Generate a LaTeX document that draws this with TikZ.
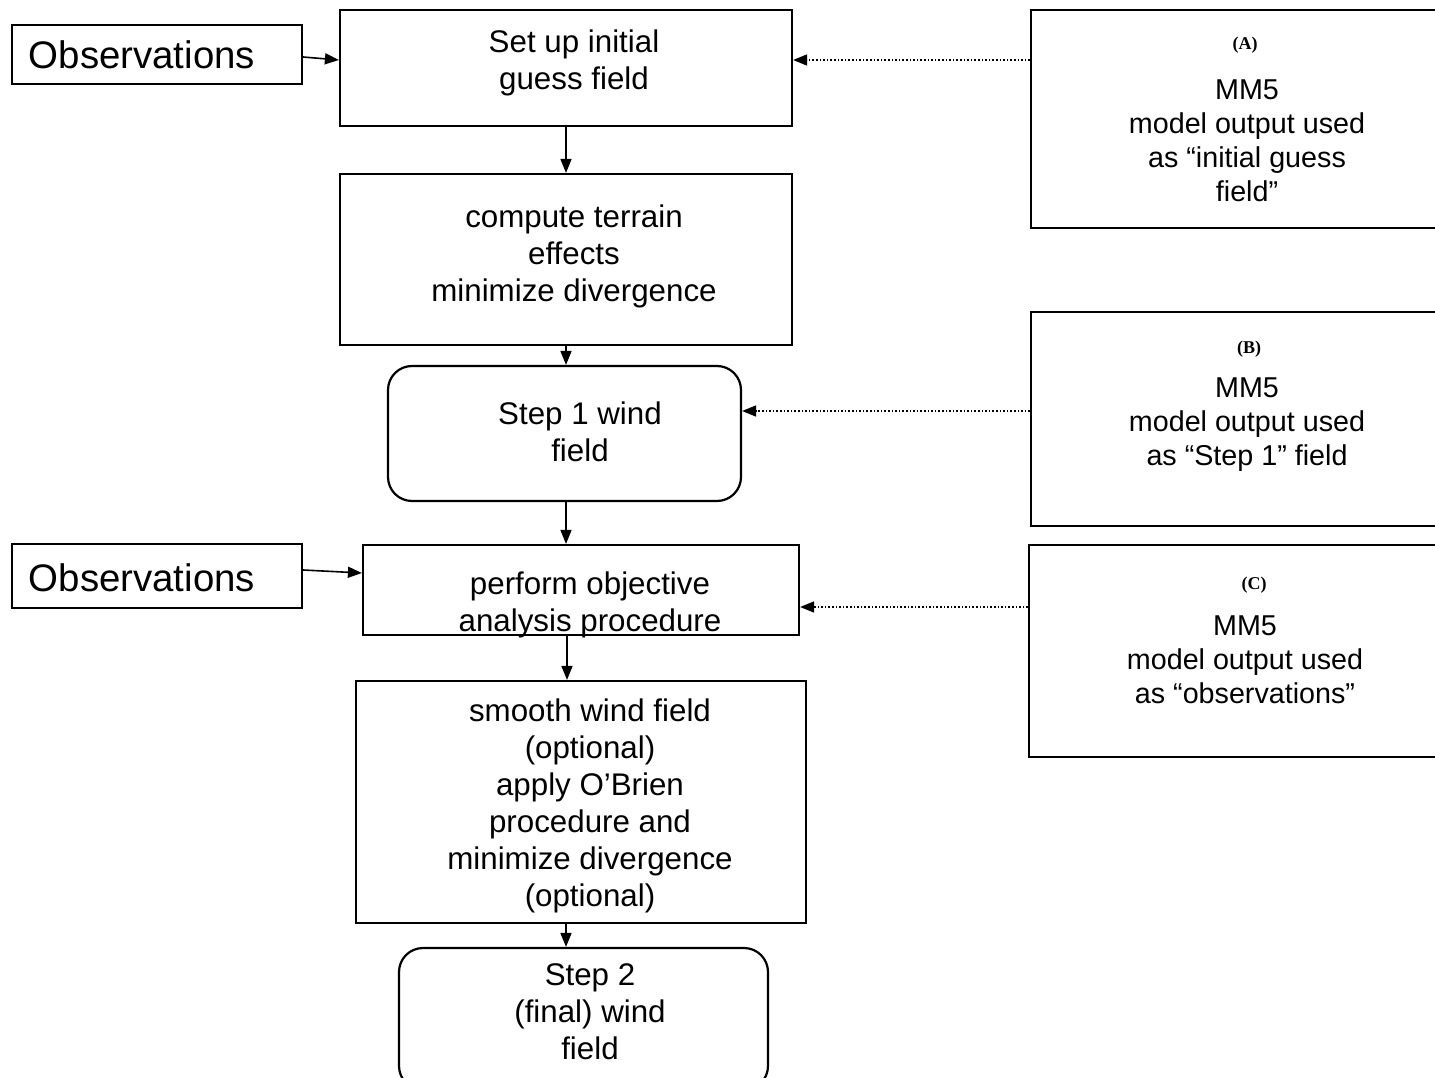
\documentclass[tikz,border=0pt]{standalone}
\usepackage{fontspec}
\setmainfont{Liberation Sans}
\newfontfamily\labelserif{Liberation Serif}
\usetikzlibrary{arrows.meta,calc}
\begin{document}
\begin{tikzpicture}[x=1pt,y=-1pt,
  box/.style={draw,line width=2.2pt,inner sep=0pt},
  rbox/.style={box,rounded corners=24pt},
  maintxt/.style={align=center,inner sep=0pt,font=\fontsize{31.3}{37}\selectfont},
  obstxt/.style={inner sep=0pt,font=\fontsize{38.4}{44}\selectfont},
  sidetxt/.style={align=center,inner sep=0pt,font=\fontsize{28.7}{34}\selectfont},
  tagtxt/.style={inner sep=0pt,font=\labelserif\bfseries\fontsize{18}{20}\selectfont},
  arr/.style={line width=1.6pt,-{Triangle[length=14pt,width=11pt]}},
  dotarr/.style={line width=1.6pt,dotted,-{Triangle[length=14pt,width=11pt]}}]
\useasboundingbox (0,0) rectangle (1435,1078);
\clip (0,0) rectangle (1435,1078);

% main flow
\node[box,minimum width=452pt,minimum height=116pt] (guess) at (566,68) {};
\node[box,minimum width=452pt,minimum height=171pt] (terrain) at (566,259.5) {};
\node[rbox,minimum width=353pt,minimum height=135pt] (step1) at (564.5,433.5) {};
\node[box,minimum width=436pt,minimum height=90pt] (oa) at (581,590) {};
\node[box,minimum width=450pt,minimum height=242pt] (smooth) at (581,802) {};
\node[rbox,minimum width=369pt,minimum height=142pt] (step2) at (583.5,1019) {};

\node[maintxt] (guesstxt) at (574,63) {Set up initial\\guess field};
\node[maintxt] (terraintxt) at (574,256) {compute terrain\\effects\\minimize divergence};
\node[maintxt] (step1txt) at (580,432) {Step 1 wind\\field};
\node[maintxt] (oatxt) at (590,605) {perform objective\\analysis procedure};
\node[maintxt] (smoothtxt) at (590,806) {smooth wind field\\(optional)\\apply O’Brien\\procedure and\\minimize divergence\\(optional)};
\node[maintxt] (step2txt) at (590,1012) {Step 2\\(final) wind\\field};

% observations
\node[box,minimum width=290pt,minimum height=59pt] (obs1) at (157,54.5) {};
\node[box,minimum width=290pt,minimum height=64pt] (obs2) at (157,576) {};
\node[obstxt] (obs1txt) at (142,55) {Observations};
\node[obstxt] (obs2txt) at (142,578) {Observations};

% MM5 sources
\node[box,minimum width=432pt,minimum height=218pt] (srcA) at (1247,119) {};
\node[box,minimum width=432pt,minimum height=214pt] (srcB) at (1247,419) {};
\node[box,minimum width=434pt,minimum height=212pt] (srcC) at (1246,651) {};
\node[tagtxt] (tagA) at (1245,45) {(A)};
\node[tagtxt] (tagB) at (1249,349) {(B)};
\node[tagtxt] (tagC) at (1254,585) {(C)};
\node[sidetxt] (srcAtxt) at (1247,141) {MM5\\model output used\\as “initial guess\\field”};
\node[sidetxt] (srcBtxt) at (1247,425) {MM5\\model output used\\as “Step 1” field};
\node[sidetxt] (srcCtxt) at (1245,660) {MM5\\model output used\\as “observations”};

% connectors
\coordinate (axis) at (566,0);
\draw[arr] (guess.south -| axis) -- (terrain.north -| axis);
\draw[arr] (terrain.south -| axis) -- (step1.north -| axis);
\draw[arr] (step1.south -| axis) -- (oa.north -| axis);
\draw[arr] ([xshift=1pt]oa.south -| axis) -- ([xshift=1pt]smooth.north -| axis);
\draw[arr] (smooth.south -| axis) -- (step2.north -| axis);

\draw[arr] ($(obs1.east)+(0,2.5)$) -- ($(guess.west)+(0,-8)$);
\draw[arr] ($(obs2.east)+(0,-6)$) -- ($(oa.west)+(0,-17)$);

\draw[dotarr] ($(srcA.west)+(0,-59)$) -- ($(guess.east)+(0,-8)$);
\draw[dotarr] ($(srcB.west)+(0,-8)$) -- ($(step1.east)+(0,-22.5)$);
\draw[dotarr] ($(srcC.west)+(0,-44)$) -- ($(oa.east)+(0,17)$);
\end{tikzpicture}
\end{document}
